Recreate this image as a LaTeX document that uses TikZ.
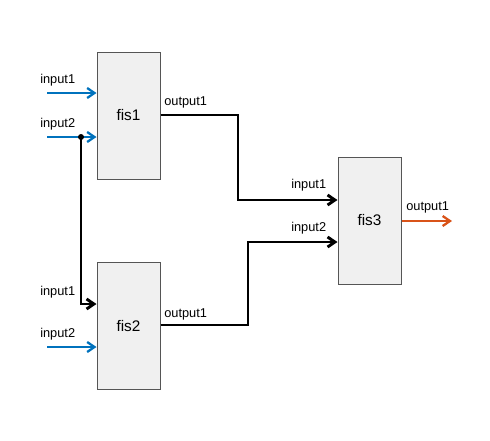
\documentclass[tikz,border=0pt]{standalone}
\usepackage{fontspec}
\setmainfont{Liberation Sans}
\usetikzlibrary{arrows.meta}
\definecolor{mblue}{HTML}{0072BD}
\definecolor{morange}{HTML}{D95319}
\definecolor{boxfill}{HTML}{F0F0F0}
\definecolor{boxedge}{HTML}{555555}
\begin{document}
\begin{tikzpicture}[x=0.75pt,y=-0.75pt,
  fisbox/.style={draw=boxedge,fill=boxfill,line width=0.75pt,minimum width=47.25pt,minimum height=95.25pt,inner sep=0pt,font=\fontsize{11.5pt}{13pt}\selectfont},
  lbl/.style={font=\fontsize{9.6pt}{11pt}\selectfont,inner sep=0pt,anchor=base west},
  inarrow/.style={draw=mblue,line width=1.7pt,-{Straight Barb[length=5.5pt,width=7.5pt]}},
  outarrow/.style={draw=morange,line width=1.7pt,-{Straight Barb[length=5.5pt,width=7.5pt]}},
  wire/.style={draw=black,line width=2.2pt,-{Straight Barb[length=5.5pt,width=7.5pt]}}]
\useasboundingbox (0,0) rectangle (490,440);
\node[fisbox] (fis1) at (128.5,115.5) {fis1};
\node[fisbox] (fis2) at (128.5,326) {fis2};
\node[fisbox] (fis3) at (369.5,220.5) {fis3};
% fis1 inputs
\coordinate (a1) at (47,93);
\coordinate (a2) at (47,137);
\draw[inarrow] (a1) -- (a1 -| fis1.west);
\draw[inarrow] (a2) -- (a2 -| fis1.west);
\node[lbl] (l11) at (40,83) {input1};
\node[lbl] (l12) at (40,127) {input2};
% junction
\coordinate (j) at (81,137);
\coordinate (b1) at (81,304);
\draw[wire] (j) -- (b1) -- (b1 -| fis2.west);
\fill (j) circle (3);
% fis2 inputs
\coordinate (b2) at (47,347);
\draw[inarrow] (b2) -- (b2 -| fis2.west);
\node[lbl] (l21) at (40,295) {input1};
\node[lbl] (l22) at (40,337) {input2};
% fis1 output
\coordinate (o1) at (160,115);
\coordinate (c1) at (238,115);
\coordinate (c2) at (238,200);
\draw[wire] (o1 -| fis1.east) -- (c1) -- (c2) -- (c2 -| fis3.west);
\node[lbl] (lo1) at (164,105) {output1};
% fis2 output
\coordinate (o2) at (160,325);
\coordinate (d1) at (248,325);
\coordinate (d2) at (248,242);
\draw[wire] (o2 -| fis2.east) -- (d1) -- (d2) -- (d2 -| fis3.west);
\node[lbl] (lo2) at (164,317) {output1};
% fis3 labels
\node[lbl] (l31) at (291,188) {input1};
\node[lbl] (l32) at (291,231) {input2};
% fis3 output
\coordinate (o3) at (401,221);
\coordinate (e3) at (452,221);
\draw[outarrow] (o3 -| fis3.east) -- (e3);
\node[lbl] (lo3) at (406,210) {output1};
\end{tikzpicture}
\end{document}
